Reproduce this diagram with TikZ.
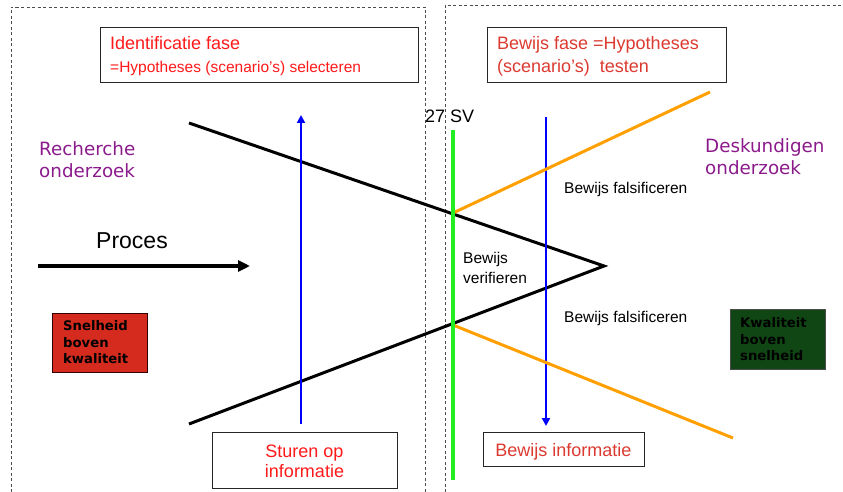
\documentclass[tikz,border=0pt]{standalone}
\usepackage{fontspec}
\setmainfont{Liberation Sans}
\newfontfamily\verd{DejaVu Sans}
\usetikzlibrary{arrows.meta}
\definecolor{purp}{HTML}{8B1A8B}
\definecolor{redbox}{HTML}{D42B1E}
\definecolor{greenbox}{HTML}{104614}
\definecolor{redtxt}{HTML}{FF1A1A}
\definecolor{redtxtb}{HTML}{DC3A30}
\definecolor{orangel}{HTML}{FFA000}
\definecolor{greenl}{HTML}{22EE22}
\begin{document}
\begin{tikzpicture}[x=1pt,y=-1pt,
  frame/.style={draw=black!70, line width=0.8pt, dash pattern=on 3pt off 2.5pt},
  box/.style={draw=black!85, line width=0.8pt, fill=white, anchor=north west, inner sep=0pt},
  txt/.style={anchor=base west, inner sep=0pt},
  ctxt/.style={anchor=base, inner sep=0pt},
  big/.style={font=\fontsize{18}{20}\selectfont},
  mid/.style={font=\fontsize{15.5}{18}\selectfont},
  purptxt/.style={txt, text=purp, font=\verd\fontsize{18.3}{22}\selectfont},
  boldtxt/.style={txt, font=\verd\bfseries\fontsize{13.2}{16}\selectfont},
  tri/.style={draw=black, line width=3pt},
  blu/.style={draw=blue, line width=2.8pt, -{Triangle[length=8pt,width=8pt]}},
  org/.style={draw=orangel, line width=3pt}
]
\useasboundingbox (0,0) rectangle (843,492);

% dashed frames
\draw[frame] (11,492) -- (11,7) -- (425,7) -- (425,492);
\draw[frame] (445,492) -- (445,5) -- (843,5);

% top boxes
\node[box, minimum width=318pt, minimum height=55pt] (idbox) at (100,27) {};
\node[txt, big, text=redtxt] (idt1) at (110,50) {Identificatie fase};
\node[txt, mid, text=redtxt] (idt2) at (110,73) {=Hypotheses (scenario’s) selecteren};

\node[box, minimum width=239pt, minimum height=55pt] (bfbox) at (487,27) {};
\node[txt, big, text=redtxtb] (bft1) at (497,50) {Bewijs fase =Hypotheses};
\node[txt, big, text=redtxtb] (bft2) at (497,73) {(scenario’s)\ \ testen};

% bottom boxes
\node[box, minimum width=185pt, minimum height=56pt] (stbox) at (212,432) {};
\node[ctxt, big, text=redtxt] (stt1) at (304.5,457) {Sturen op};
\node[ctxt, big, text=redtxt] (stt2) at (304.5,477) {informatie};

\node[box, minimum width=161pt, minimum height=34pt] (bibox) at (483,432) {};
\node[ctxt, big, text=redtxtb] (bit) at (563.5,456) {Bewijs informatie};

% coloured boxes
\node[box, fill=redbox, draw=black!80!red, minimum width=95pt, minimum height=59pt] (snel) at (52,313) {};
\node[boldtxt] (sn1) at (63,330) {Snelheid};
\node[boldtxt] (sn2) at (63,347) {boven};
\node[boldtxt] (sn3) at (63,363) {kwaliteit};

\node[box, fill=greenbox, draw=black!70, minimum width=95pt, minimum height=60pt] (kwal) at (730,309) {};
\node[boldtxt] (kw1) at (740,327) {Kwaliteit};
\node[boldtxt] (kw2) at (740,344) {boven};
\node[boldtxt] (kw3) at (740,360) {snelheid};

% labels
\node[purptxt] (rec1) at (39,155) {Recherche};
\node[purptxt] (rec2) at (39,177) {onderzoek};
\node[purptxt] (des1) at (705,153) {Deskundigen};
\node[purptxt] (des2) at (705,175) {onderzoek};
\node[txt, font=\fontsize{23}{26}\selectfont] (proc) at (96,248) {Proces};
\node[txt, big] (sv) at (425,123) {27 SV};
\node[txt, mid] (bf1) at (564,193) {Bewijs falsificeren};
\node[txt, mid] (bf2) at (564,322) {Bewijs falsificeren};
\node[txt, mid] (bv1) at (463,263) {Bewijs};
\node[txt, mid] (bv2) at (463,283) {verifieren};

% coordinates
\coordinate (pa) at (38,266);
\coordinate (pb) at (250,266);
\coordinate (t1) at (189,123);
\coordinate (apex) at (604,266);
\coordinate (t2) at (189,424);
\coordinate (bu0) at (301,424);
\coordinate (bu1) at (301,115);
\coordinate (bd0) at (546,117);
\coordinate (bd1) at (546,426);
\coordinate (g0) at (453,130);
\coordinate (g1) at (453,480);
\coordinate (o1) at (453,213);
\coordinate (o1e) at (710,92);
\coordinate (o2) at (453,325);
\coordinate (o2e) at (733,438);

% process arrow
\draw[line width=4pt, -{Triangle[length=12pt,width=11pt]}] (pa) -- (pb);

% triangle
\draw[tri, line join=miter] (t1) -- (apex) -- (t2);

% blue arrows
\draw[blu] (bu0) -- (bu1);
\draw[blu] (bd0) -- (bd1);

% orange lines
\draw[org] (o1) -- (o1e);
\draw[org] (o2) -- (o2e);

% green line
\draw[draw=greenl, line width=4pt] (g0) -- (g1);
\end{tikzpicture}
\end{document}
